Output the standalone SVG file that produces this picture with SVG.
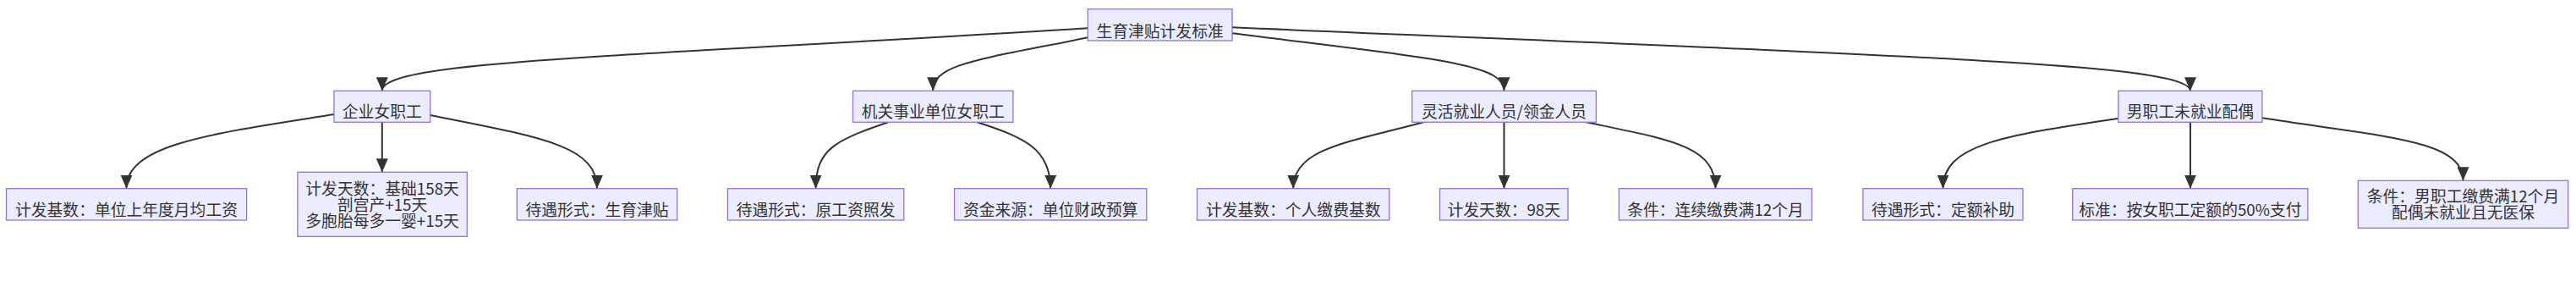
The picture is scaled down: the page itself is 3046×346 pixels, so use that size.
<svg xmlns="http://www.w3.org/2000/svg" width="3046" height="346" viewBox="0 0 3046 346">
<style>
.node rect{fill:#ECECFF;stroke:#9370DB;stroke-width:1.3}
.node text{font-family:"Noto Sans CJK SC","Noto Sans",sans-serif;font-size:18.8px;fill:#333;text-anchor:middle}
.edges path{fill:none;stroke:#333;stroke-width:2;marker-end:url(#arrow)}
</style>
<defs>
<marker id="arrow" viewBox="0 0 16 14" refX="16" refY="7" markerWidth="16" markerHeight="14" markerUnits="userSpaceOnUse" orient="auto">
<path d="M0,0 L16,7 L0,14 z" fill="#333"/>
</marker>
</defs>
<rect width="3046" height="346" fill="#fff"/>
<g class="edges">
<path d="M1286.3,33.3 C720,68 451.8,72 451.8,107.3"/>
<path d="M1286.3,44.3 C1160,70 1103.2,75 1103.2,107.3"/>
<path d="M1457,39.3 C1700,70 1778.5,75 1778.5,107.3"/>
<path d="M1457,32.3 C2300,68 2590,76 2590,107.3"/>
<path d="M395,135 C250,158 149.5,170 149.5,222.7"/>
<path d="M451.8,144.3 L451.8,203.3"/>
<path d="M508.7,136 C640,162 706,172 706,222.7"/>
<path d="M1050.4,144.3 C990,165 964.6,175 964.6,222.7"/>
<path d="M1155.4,144.3 C1210,162 1242.2,175 1242.2,222.7"/>
<path d="M1683.6,144.3 C1595,168 1529.2,175 1529.2,222.7"/>
<path d="M1778.5,144.3 L1778.5,222.7"/>
<path d="M1875.5,144.3 C1975,165 2028.5,172 2028.5,222.7"/>
<path d="M2504.8,140 C2370,160 2297.5,170 2297.5,222.7"/>
<path d="M2590,144.3 L2590,222.7"/>
<path d="M2674.9,139.3 C2820,162 2912.5,165 2912.5,213.3"/>
</g>
<g id="root" class="node"><rect x="1286.3" y="10.7" width="170.7" height="37.3"/><text x="1371.6" y="43.8">生育津贴计发标准</text></g>
<g id="n1" class="node"><rect x="395" y="107.3" width="113.7" height="37"/><text x="451.8" y="138.8">企业女职工</text></g>
<g id="n2" class="node"><rect x="1008.5" y="107.3" width="189.4" height="37"/><text x="1103.2" y="138.8">机关事业单位女职工</text></g>
<g id="n3" class="node"><rect x="1669.7" y="107.3" width="217.7" height="37"/><text x="1778.5" y="138.8">灵活就业人员/领金人员</text></g>
<g id="n4" class="node"><rect x="2504.8" y="107.3" width="170.1" height="37"/><text x="2589.9" y="138.8">男职工未就业配偶</text></g>
<g id="l1" class="node"><rect x="7.5" y="222.7" width="284.1" height="37.3"/><text x="149.5" y="254.6">计发基数：单位上年度月均工资</text></g>
<g id="l2" class="node"><rect x="351.9" y="203.3" width="200.4" height="76"/><text x="452.1" y="230.4"><tspan x="452.1" y="230.4">计发天数：基础158天</tspan><tspan x="452.1" y="249.4">剖宫产+15天</tspan><tspan x="452.1" y="268.4">多胞胎每多一婴+15天</tspan></text></g>
<g id="l3" class="node"><rect x="611.3" y="222.7" width="189.4" height="37.3"/><text x="706" y="254.6">待遇形式：生育津贴</text></g>
<g id="l4" class="node"><rect x="860.4" y="222.7" width="208.4" height="37.3"/><text x="964.6" y="254.6">待遇形式：原工资照发</text></g>
<g id="l5" class="node"><rect x="1128.5" y="222.7" width="227.3" height="37.3"/><text x="1242.2" y="254.6">资金来源：单位财政预算</text></g>
<g id="l6" class="node"><rect x="1415.5" y="222.7" width="227.3" height="37.3"/><text x="1529.2" y="254.6">计发基数：个人缴费基数</text></g>
<g id="l7" class="node"><rect x="1702.5" y="222.7" width="151.5" height="37.3"/><text x="1778.3" y="254.6">计发天数：98天</text></g>
<g id="l8" class="node"><rect x="1914.4" y="222.7" width="228.1" height="37.3"/><text x="2028.5" y="254.6">条件：连续缴费满12个月</text></g>
<g id="l9" class="node"><rect x="2202.9" y="222.7" width="189.1" height="37.3"/><text x="2297.5" y="254.6">待遇形式：定额补助</text></g>
<g id="l10" class="node"><rect x="2450.8" y="222.7" width="278.1" height="37.3"/><text x="2589.9" y="254.6">标准：按女职工定额的50%支付</text></g>
<g id="l11" class="node"><rect x="2788.3" y="213.3" width="248.4" height="56"/><text x="2912.5" y="239.1"><tspan x="2912.5" y="239.1">条件：男职工缴费满12个月</tspan><tspan x="2912.5" y="257.6">配偶未就业且无医保</tspan></text></g>
</svg>
